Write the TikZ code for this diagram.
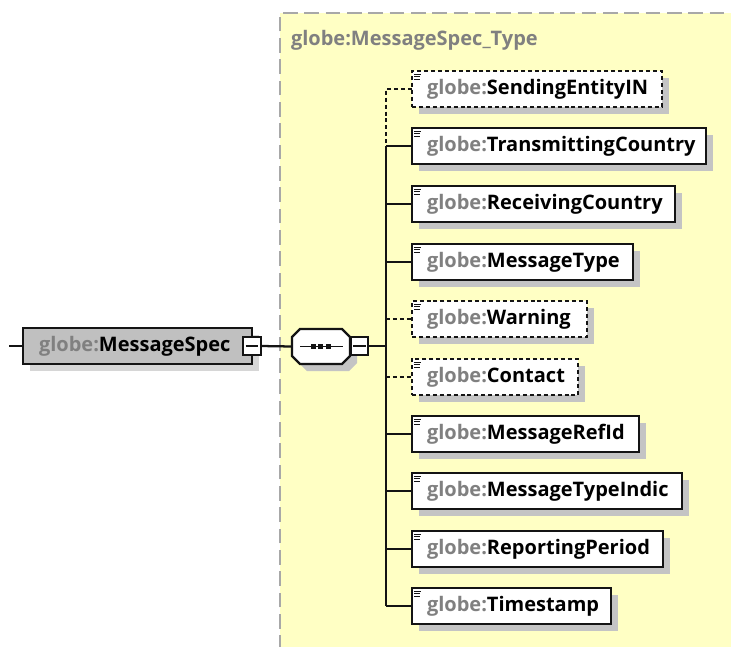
\documentclass[tikz,border=0pt]{standalone}
\usepackage{fontspec}
\setmainfont{Open Sans}
\usetikzlibrary{shadows}
\definecolor{ybg}{RGB}{255,255,196}
\definecolor{ybord}{RGB}{168,168,168}
\definecolor{gtxt}{RGB}{128,128,128}
\definecolor{shd}{RGB}{196,196,196}
\definecolor{shdl}{RGB}{214,214,214}
\definecolor{mfill}{RGB}{192,192,192}
\definecolor{lnc}{RGB}{20,20,20}
\newcommand\elfont{\fontsize{15}{18}\selectfont\bfseries}
\newcommand\gl{\textcolor{gtxt}{globe:}}
\begin{document}
\begin{tikzpicture}[x=0.75pt,y=-0.75pt,
  every node/.style={outer sep=0pt},
  conn/.style={draw=lnc,line width=1.7pt},
  optconn/.style={conn,dash pattern=on 3pt off 2.2pt},
  elem/.style={draw=lnc,line width=1.7pt,fill=white,anchor=west,
    minimum height=27pt,inner xsep=11.25pt,inner ysep=0pt,align=left,font=\elfont,
    drop shadow={shadow xshift=5.25pt,shadow yshift=-5.25pt,fill=shd,opacity=1}},
  optelem/.style={elem,dash pattern=on 3pt off 2.2pt},
  collapse/.style={draw=lnc,line width=1.4pt,fill=white,minimum width=13pt,minimum height=13.5pt,inner sep=0pt},
  icon/.style={draw=lnc,line width=0.75pt}]
\useasboundingbox (0,0) rectangle (731,646);
% complex type container
\fill[ybg] (280,13) rectangle (740,650);
\draw[ybord,line width=1.6pt,dash pattern=on 11pt off 5pt] (280,650) -- (280,13) -- (740,13);
\node[anchor=west,font=\elfont,text=gtxt,inner sep=0pt] (title) at (291,40) {globe:MessageSpec\_Type};
% main element
\node[draw=lnc,line width=1.7pt,fill=mfill,anchor=west,minimum height=27pt,
  inner xsep=12pt,inner ysep=0pt,text width=147.75pt,align=left,font=\elfont,
  drop shadow={shadow xshift=5.25pt,shadow yshift=-5.25pt,fill=shdl,opacity=1}]
  (ms) at (23,346) {\mbox{\gl MessageSpec}};
\node[collapse] (msc) at (252,346) {};
\draw[conn,line width=1.4pt] ([xshift=1.8pt]msc.west) -- ([xshift=-1.8pt]msc.east);
\coordinate (in) at (9,346);
\draw[conn] (in) -- (ms.west);
% sequence compositor (octagon)
\fill[shd] (307,336) -- (349,336) -- (357,344) -- (357,363) -- (349,371) -- (307,371) -- (299,363) -- (299,344) -- cycle;
\draw[conn,fill=white] (300,329) -- (342,329) -- (350,337) -- (350,356) -- (342,364) -- (300,364) -- (292,356) -- (292,337) -- cycle;
\coordinate (seq) at (292,346.5);
\draw[conn,line width=1.4pt] (300,346.5) -- (343,346.5);
\foreach \dx in {313,320.5,328} \fill[lnc] (\dx-2.5,344) rectangle (\dx+2.5,349);
\node[collapse] (seqc) at (359.5,346) {};
\draw[conn,line width=1.4pt] ([xshift=1.8pt]seqc.west) -- ([xshift=-1.8pt]seqc.east);
\draw[conn] (msc.east) -- (seq);
\coordinate (sp) at (386,346);
\draw[conn] (seqc.east) -- (sp);
% children
\node[optelem,text width=165pt]    (c1)  at (412,89)  {\mbox{\gl SendingEntityIN}};
\node[elem,text width=198pt]       (c2)  at (412,146) {\mbox{\gl TransmittingCountry}};
\node[elem,text width=174.75pt]    (c3)  at (412,204) {\mbox{\gl ReceivingCountry}};
\node[elem,text width=143.25pt]    (c4)  at (412,262) {\mbox{\gl MessageType}};
\node[optelem,text width=108.75pt] (c5)  at (412,319) {\mbox{\gl Warning}};
\node[optelem,text width=102pt]    (c6)  at (412,377) {\mbox{\gl Contact}};
\node[elem,text width=147.75pt]    (c7)  at (412,434) {\mbox{\gl MessageRefId}};
\node[elem,text width=180pt]       (c8)  at (412,491) {\mbox{\gl MessageTypeIndic}};
\node[elem,text width=165.75pt]    (c9)  at (412,549) {\mbox{\gl ReportingPeriod}};
\node[elem,text width=126.75pt]    (c10) at (412,606) {\mbox{\gl Timestamp}};
% spine and branches
\draw[optconn] (c1.west) -- (c1.west -| sp) -- (c2.west -| sp);
\draw[conn] (c2.west -| sp) -- (c10.west -| sp);
\foreach \n in {c2,c3,c4,c7,c8,c9,c10} \draw[conn] (\n.west -| sp) -- (\n.west);
\foreach \n in {c5,c6} \draw[optconn] (\n.west -| sp) -- (\n.west);
% documentation icons
\foreach \n in {c1,c2,c3,c4,c5,c6,c7,c8,c9,c10} {
  \begin{scope}[shift={(\n.north west)}]
    \draw[icon] (2,3) -- (9,3) (2,5.5) -- (8,5.5) (2,8) -- (8,8);
  \end{scope}
}
\end{tikzpicture}
\end{document}
